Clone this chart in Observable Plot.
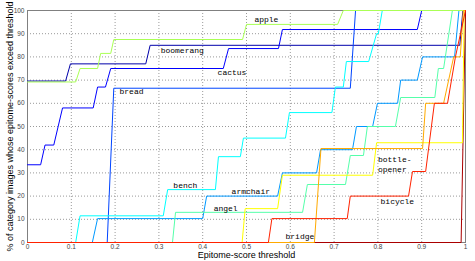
<!DOCTYPE html>
<html>
<head>
<meta charset="utf-8">
<script src="https://cdn.jsdelivr.net/npm/d3@7"></script>
<script src="https://cdn.jsdelivr.net/npm/@observablehq/plot@0.6"></script>
<style>
  html, body { margin: 0; padding: 0; background: #fff; }
  #chart svg { display: block; }
</style>
</head>
<body>
<div id="chart"></div>
<script>
// ---- Data ----
const categories = ["other", "boomerang", "cactus", "bread", "armchair", "bench", "angel", "apple", "bottle-opener", "bridge", "bicycle"];
const colors = ["#aa0000", "#0000aa", "#0000ff", "#0044ff", "#0099ff", "#00ffff", "#55ffaa", "#aaff55", "#ffff00", "#ffaa00", "#ff2200"];

// [threshold, % of images]
const other = [[0,0],[0.99,0],[1,100]];
const boomerang = [[0,69.6],[0.087,69.6],[0.098,77],[0.27,77],[0.28,85],[0.987,85],[0.994,100],[1,100]];
const cactus = [[0,33.5],[0.03,33.5],[0.04,42],[0.06,42],[0.08,58],[0.15,58],[0.16,67],[0.178,67],[0.19,75],[0.447,75],[0.459,83.6],[0.573,83.6],[0.582,91.8],[0.89,91.8],[0.9,100],[1,100]];
const bread = [[0,0],[0.182,0],[0.197,66.5],[0.737,66.5],[0.749,100],[1,100]];
const armchair = [[0,0],[0.148,0],[0.16,10.3],[0.4,10.3],[0.409,20],[0.571,20],[0.582,30],[0.66,30],[0.669,40],[0.742,40],[0.751,50],[0.788,50],[0.799,60],[0.845,60],[0.852,70],[0.89,70],[0.902,80],[0.975,80],[0.985,100],[1,100]];
const bench = [[0,0],[0.11,0],[0.12,11.5],[0.31,11.5],[0.32,22.8],[0.429,22.8],[0.436,37],[0.486,37],[0.493,45],[0.589,45],[0.598,56],[0.695,56],[0.703,67],[0.721,67],[0.728,78],[0.779,78],[0.797,90],[0.801,90],[0.81,100],[1,100]];
const angel = [[0,0],[0.331,0],[0.338,13],[0.628,13],[0.639,25],[0.726,25],[0.737,37.5],[0.767,37.5],[0.776,50],[0.84,50],[0.852,62.5],[0.93,62.5],[0.938,75],[0.95,75],[0.97,100],[1,100]];
const apple = [[0,69.2],[0.11,69.2],[0.12,75],[0.16,75],[0.167,81.5],[0.19,81.5],[0.197,87.5],[0.491,87.5],[0.5,94],[0.708,94],[0.721,100],[1,100]];
const bottleOpener = [[0,0],[0.49,0],[0.497,14.6],[0.571,14.6],[0.582,29],[0.788,29],[0.797,43],[0.993,43],[0.997,100],[1,100]];
const bridge = [[0,0],[0.655,0],[0.67,40.5],[0.902,40.5],[0.909,60],[0.95,60],[0.973,80],[0.988,80],[0.995,100],[1,100]];
const bicycle = [[0,0],[0.55,0],[0.558,10.3],[0.73,10.3],[0.737,20],[0.87,20],[0.879,30.6],[0.909,30.6],[0.929,60],[0.959,60],[0.977,80],[1,100]];

const seriesPoints = [other, boomerang, cactus, bread, armchair, bench, angel, apple, bottleOpener, bridge, bicycle];

// In-plot labels: text, threshold where the text starts, % at text baseline
const labelText = ["apple", "boomerang", "cactus", "bread", "bench", "armchair", "angel", "bridge", "bottle-\nopener", "bicycle"];
const labelX = [0.518, 0.304, 0.434, 0.21, 0.333, 0.466, 0.425, 0.589, 0.8, 0.806];
const labelY = [95, 81.5, 72.4, 63.8, 23.7, 20.7, 13.4, 1.3, 30.6, 16.8];

const xTicks = [0, 0.1, 0.2, 0.3, 0.4, 0.5, 0.6, 0.7, 0.8, 0.9, 1];
const xTickLabels = ["0", "0.1", "0.2", "0.3", "0.4", "0.5", "0.6", "0.7", "0.8", "0.9", "1"];
const yTicks = [0, 10, 20, 30, 40, 50, 60, 70, 80, 90, 100];
const yTickLabels = ["0", "10", "20", "30", "40", "50", "60", "70", "80", "90", "100"];

const xTitle = "Epitome-score threshold";
const yTitle = "% of category images whose epitome-scores exceed threshold";

// ---- Build tables ----
const rows = [];
categories.forEach((name, i) => {
  seriesPoints[i].forEach(([x, y]) => rows.push({name, x, y}));
});
const labels = labelText.map((text, i) => ({text, x: labelX[i], y: labelY[i]}));

const chart = Plot.plot({
  width: 475,
  height: 261,
  marginLeft: 27,
  marginRight: 10,
  marginTop: 10,
  marginBottom: 19,
  style: {
    fontFamily: "'Liberation Sans', Arial, Helvetica, sans-serif",
    fontSize: "6.5px",
    background: "#fff",
    overflow: "visible"
  },
  x: {domain: [0, 1]},
  y: {domain: [0, 100]},
  color: {domain: categories, range: colors},
  marks: [
    Plot.gridX(xTicks, {stroke: "#999", strokeOpacity: 1, strokeDasharray: "1,2"}),
    Plot.gridY(yTicks, {stroke: "#999", strokeOpacity: 1, strokeDasharray: "1,2"}),
    Plot.axisX(xTicks, {
      tickFormat: d => xTickLabels[xTicks.indexOf(d)],
      tickSize: 0, tickPadding: 2, label: null, fill: "#444"
    }),
    Plot.axisY(yTicks, {
      tickFormat: d => yTickLabels[yTicks.indexOf(d)],
      tickSize: 0, tickPadding: 3, label: null, fill: "#444"
    }),
    Plot.frame({stroke: "#808080"}),
    Plot.line(rows, {x: "x", y: "y", z: "name", stroke: "name", strokeWidth: 1}),
    Plot.text(labels, {
      x: "x", y: "y", text: "text",
      textAnchor: "start", lineAnchor: "bottom", lineHeight: 1.25,
      fontFamily: "'Liberation Mono', 'DejaVu Sans Mono', monospace",
      fontSize: 8, fill: "#000"
    }),
    Plot.text([xTitle], {frameAnchor: "bottom", textAnchor: "middle", lineAnchor: "middle", dy: 13, fontSize: 9, fill: "#000"}),
    Plot.text([yTitle], {frameAnchor: "left", textAnchor: "middle", lineAnchor: "middle", rotate: -90, dx: -17, fontSize: 9, fill: "#000"})
  ]
});

document.getElementById("chart").appendChild(chart);
</script>
</body>
</html>
